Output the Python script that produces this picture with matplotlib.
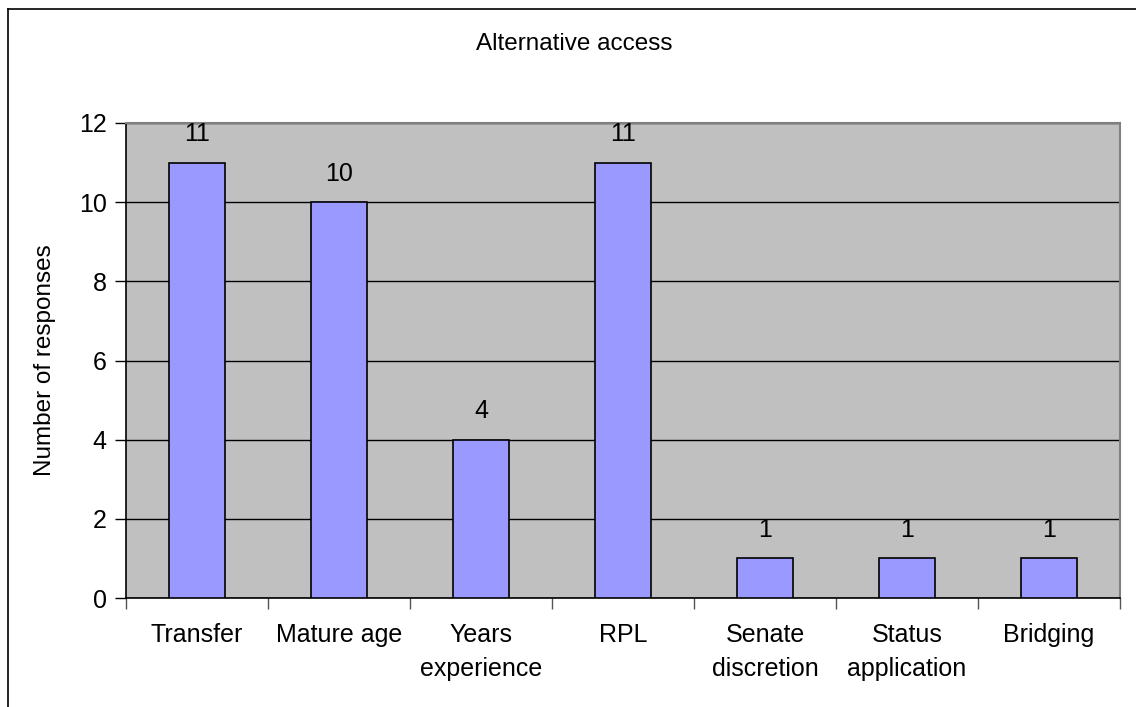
import numpy as np
import matplotlib
matplotlib.use('Agg')
import matplotlib.pyplot as plt
from matplotlib.lines import Line2D
from matplotlib.ticker import FixedLocator

plt.rcParams['font.family'] = ['Liberation Sans', 'DejaVu Sans']

categories = ['Transfer', 'Mature age', 'Years\nexperience', 'RPL',
              'Senate\ndiscretion', 'Status\napplication', 'Bridging']
responses = [11, 10, 4, 11, 1, 1, 1]
title = 'Alternative access'
ylabel = 'Number of responses'

fs = 18

fig = plt.figure(figsize=(11.36, 7.07), dpi=100)
fig.patch.set_facecolor('white')

# outer chart frame (only top and left edges inside the picture)
fig.add_artist(Line2D([8 / 1136, 8 / 1136], [0, 1 - 9 / 707], color='black', lw=1.2))
fig.add_artist(Line2D([8 / 1136, 1], [1 - 9 / 707, 1 - 9 / 707], color='black', lw=1.2))

ax = fig.add_axes([126 / 1136, 1 - 598 / 707, 994 / 1136, 475 / 707])
ax.set_facecolor('#C0C0C0')

x = np.arange(len(categories))
ax.bar(x, responses, width=0.39, color='#9999FF', edgecolor='black', linewidth=1.2, zorder=3)

for xi, v in zip(x, responses):
    ax.annotate(str(v), (xi, v), xytext=(0, 12), textcoords='offset points',
                ha='center', va='bottom', fontsize=fs)

ax.set_xlim(-0.5, len(categories) - 0.5)
ax.set_ylim(0, 12)
ax.set_yticks(np.arange(0, 13, 2))
ax.yaxis.grid(True, color='black', linewidth=1)
ax.set_axisbelow(True)

ax.set_xticks(x)
ax.set_xticklabels(categories, fontsize=fs, linespacing=1.55)
ax.xaxis.set_minor_locator(FixedLocator(np.arange(-0.5, len(categories), 1)))
ax.tick_params(axis='x', which='major', length=0, pad=18)
ax.tick_params(axis='x', which='minor', length=8, color='#555555', width=1)
ax.tick_params(axis='y', length=8, width=1, color='black', labelsize=fs, pad=6)

for s in ['left', 'bottom']:
    ax.spines[s].set_color('black')
    ax.spines[s].set_linewidth(1.2)
for s in ['top', 'right']:
    ax.spines[s].set_color('#808080')
    ax.spines[s].set_linewidth(1.5)

fig.text(574 / 1136, 1 - 44 / 707, title, ha='center', va='center', fontsize=17.5)
fig.text(45 / 1136, 1 - 360 / 707, ylabel, ha='center', va='center',
         rotation=90, fontsize=17.5)

fig.savefig('out.png', dpi=100)
